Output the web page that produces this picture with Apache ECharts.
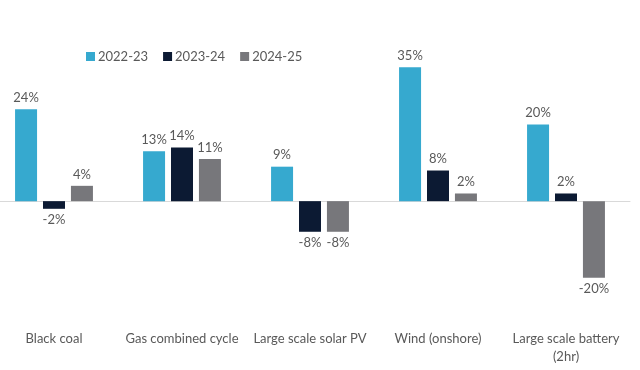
<!DOCTYPE html>
<html><head><meta charset="utf-8">
<script src="https://cdn.jsdelivr.net/npm/echarts@6/dist/echarts.min.js"></script>
<style>html,body{margin:0;padding:0;background:#fff}#c{width:640px;height:370px}</style>
</head><body><div id="c"></div>
<script>
const categories = ['Black coal','Gas combined cycle','Large scale solar PV','Wind (onshore)','Large scale battery\n(2hr)'];
const seriesNames = ['2022-23','2023-24','2024-25'];
const s2022 = [24, 13, 9, 35, 20];
const s2023 = [-2, 14, -8, 8, 2];
const s2024 = [4, 11, -8, 2, -20];
const colors = ['#36A9CF', '#0C1A33', '#77777B'];

const font = 'Lato, "Open Sans", sans-serif';
const chart = echarts.init(document.getElementById('c'), null, {renderer:'canvas'});
const mk = (name, data, i) => ({
  name, type:'bar', xAxisIndex:0, barWidth:22, barGap:'27%',
  itemStyle:{color:colors[i]},
  label:{show:true, fontFamily:font, fontSize:13, color:'#595959', distance:5,
    formatter:p=>p.value+'%'},
  data: data.map(v=>({value:v, label:{position: v<0?'bottom':'top'}}))
});
const series = [mk(seriesNames[0], s2022, 0), mk(seriesNames[1], s2023, 1), mk(seriesNames[2], s2024, 2)];
chart.setOption({
  animation:false,
  legend:{left:81, top:45, itemWidth:9, itemHeight:9, itemGap:15, icon:'rect',
    textStyle:{fontFamily:font, fontSize:13, color:'#595959', padding:[0,0,0,-2]},
    data:seriesNames},
  grid:{left:-10, right:10, top:48, bottom:54, containLabel:false, outerBoundsMode:'none'},
  xAxis:[
    {type:'category', data:categories, axisLine:{onZero:true, lineStyle:{color:'#D9D9D9'}},
     axisTick:{show:false}, axisLabel:{show:false}},
    {type:'category', data:categories, position:'bottom', axisLine:{show:false, onZero:false},
     axisTick:{show:false}, axisLabel:{fontFamily:font, fontSize:13, color:'#595959', margin:14, lineHeight:18, interval:0}}
  ],
  yAxis:{type:'value', min:-30, max:40, show:false, splitLine:{show:false}},
  series
});
</script></body></html>
